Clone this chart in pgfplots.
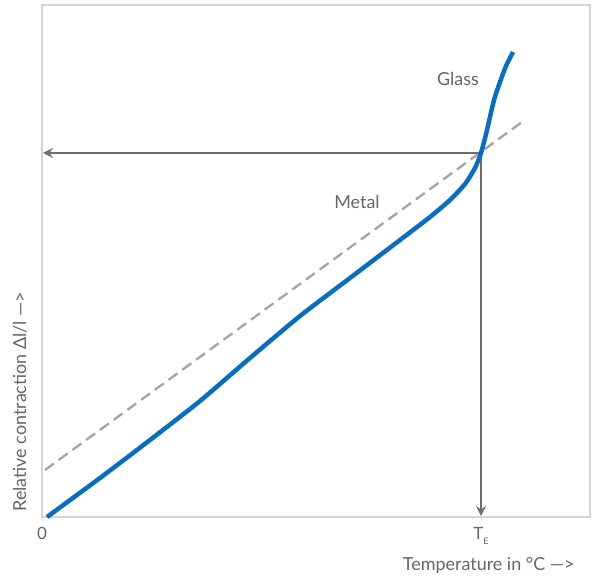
\documentclass[border=0pt]{standalone}
\usepackage{pgfplots}
\pgfplotsset{compat=1.18}
\usepackage{fontspec}
\setmainfont{Lato}
\usetikzlibrary{arrows.meta}
\definecolor{curveblue}{HTML}{0A6EBD}
\definecolor{dashgray}{HTML}{A3A3A3}
\definecolor{arrowgray}{HTML}{6E6E6E}
\definecolor{textgray}{HTML}{666666}
\definecolor{framegray}{HTML}{D4D4D4}
\begin{document}
\begin{tikzpicture}
\begin{axis}[
  scale only axis, width=548bp, height=512bp,
  xmin=0, xmax=548, ymin=0, ymax=512,
  axis line style={framegray, line width=1.3bp},
  xtick={0,439}, xticklabels={0,{T\raisebox{-0.55ex}{\fontsize{9}{10}\selectfont E}}},
  ytick=\empty,
  tick style={framegray, line width=1bp},
  major tick length=4bp, tick align=outside,
  xtick pos=bottom,
  ticklabel style={text=textgray, font=\fontsize{17}{20}\selectfont},
  xticklabel style={yshift=-3bp},
  clip=false,
]
\addplot[dashgray, line width=2.3bp, dash pattern=on 11bp off 6bp] coordinates {(3,47) (480,395)};
\addplot[arrowgray, line width=2.8bp, -{Stealth[length=10bp,width=10bp,inset=3.5bp]}] coordinates {(439,364) (1,364)};
\addplot[arrowgray, line width=2.8bp, -{Stealth[length=10bp,width=10bp,inset=3.5bp]}] coordinates {(439,364) (439,1)};
\addplot[curveblue, line width=4.5bp, smooth, tension=0.4] coordinates {
(5,0) (58,39) (108,77) (158,116) (208,159) (258,201) (308,239) (358,277) (388,300) (408,317) (423,333) (433,349) (439,364) (445,387) (452,417) (458,435) (464,451) (471,465)};
\node[text=textgray, font=\fontsize{18}{21}\selectfont] at (axis cs:416,438) {Glass};
\node[text=textgray, font=\fontsize{18}{21}\selectfont] at (axis cs:315,315) {Metal};
\node[text=textgray, font=\fontsize{18}{21}\selectfont, anchor=east] at (axis cs:536,-48) {Temperature in °C —>};
\node[text=textgray, font=\fontsize{18}{21}\selectfont, rotate=90, anchor=west] at (axis cs:-22,2) {Relative contraction Δl/l —>};
\coordinate (O) at (axis cs:0,0);
\end{axis}
\pgfresetboundingbox
\path[use as bounding box] (O) ++(-42bp,-62bp) rectangle ++(597bp,579bp);
\end{tikzpicture}
\end{document}
